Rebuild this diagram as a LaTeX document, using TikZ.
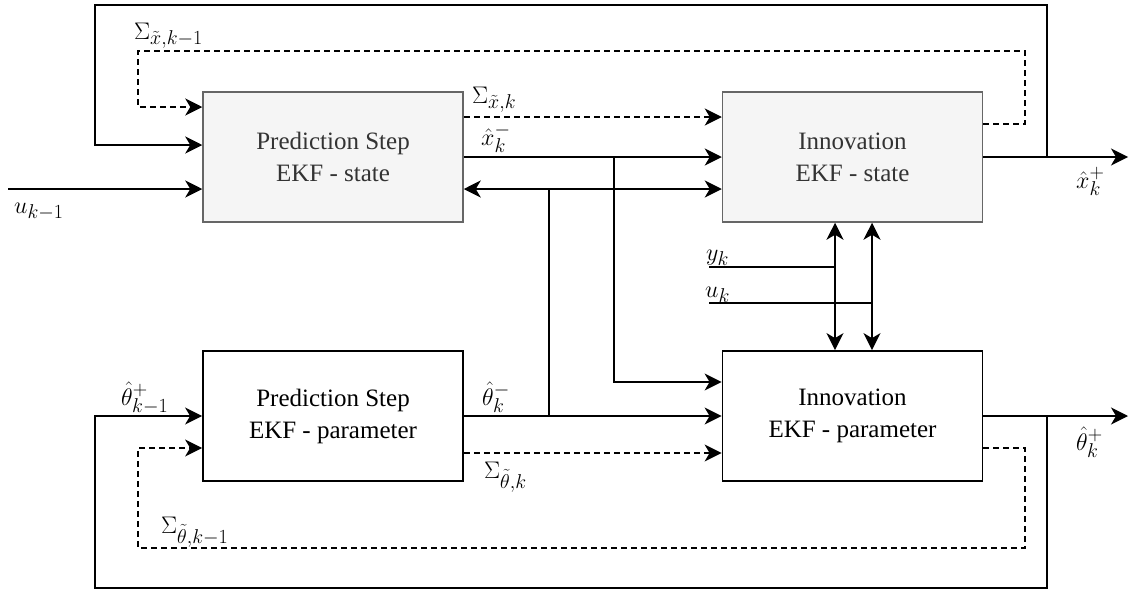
\RequirePackage{fix-cm}
\documentclass[tikz,border=0pt]{standalone}
\usepackage[no-math]{fontspec}
\setmainfont{Liberation Serif}
\usetikzlibrary{arrows.meta}
\definecolor{stfill}{HTML}{F5F5F5}
\definecolor{stdraw}{HTML}{666666}
\definecolor{sttext}{HTML}{333333}
\DeclareMathSizes{24}{24}{20}{15}
\begin{document}
\begin{tikzpicture}[x=1pt,y=-1pt,
  >={Stealth[length=17pt,width=17pt,inset=5pt]},
  blk/.style={minimum width=260pt,minimum height=130pt,align=center,inner sep=0pt,font=\fontsize{25}{32}\selectfont},
  statebox/.style={blk,draw=stdraw,fill=stfill,text=sttext,line width=1.5pt},
  parbox/.style={blk,draw=black,line width=1.8pt,text=black},
  conn/.style={line width=1.6pt},
  arr/.style={conn,->},
  dbl/.style={conn,<->},
  dsh/.style={line width=1.4pt,dash pattern=on 6pt off 4pt,->},
  lab/.style={anchor=base west,inner sep=0pt,font=\fontsize{24}{28}\selectfont}]
\useasboundingbox (0,0) rectangle (1129,592);

% boxes
\node[statebox] (ps) at (333,157) {Prediction Step\\EKF - state};
\node[statebox] (is) at (852.5,157) {Innovation\\EKF - state};
\node[parbox] (pp) at (333,416) {Prediction Step\\EKF - parameter};
\node[parbox] (ip) at (852.5,416) {Innovation\\EKF - parameter};

% helper coordinates
\coordinate (xout) at (1128,157);
\coordinate (tout) at (1128,416);
\coordinate (jx) at (1047,157);
\coordinate (cTL) at (95,5);
\coordinate (dTR) at (1025,51);
\coordinate (dTL) at (138,51);
\coordinate (jxm) at (614,157);
\coordinate (jd) at (549,189);
\coordinate (jt) at (549,416);
\coordinate (uin) at (8,189);
\coordinate (yk) at (709,267);
\coordinate (yk2) at (835,267);
\coordinate (uk) at (709,303);
\coordinate (uk2) at (872,303);
\coordinate (jt2) at (1047,416);
\coordinate (cBL) at (95,588);
\coordinate (dBR) at (1025,548);
\coordinate (dBL) at (138,548);

% state path
\draw[arr] (is.east) -- (xout);
\draw[arr] (jx) |- (cTL) |- ([yshift=12pt]ps.west);
\draw[dsh] ([yshift=33pt]is.east) -| (dTR) -- (dTL) |- ([yshift=50pt]ps.west);
\draw[dsh] ([yshift=40pt]ps.east) -- ([yshift=40pt]is.west);
\draw[arr] (ps.east) -- (is.west);
\draw[arr] (jxm) |- ([yshift=34pt]ip.west);
\draw[dbl] ([yshift=-32pt]ps.east) -- ([yshift=-32pt]is.west);
\draw[conn] (jd) -- (jt);
\draw[arr] (uin) -- ([yshift=-32pt]ps.west);

% measurements
\draw[dbl] ([xshift=-17.5pt]is.south) -- ([xshift=-17.5pt]ip.north);
\draw[dbl] ([xshift=19.5pt]is.south) -- ([xshift=19.5pt]ip.north);
\draw[conn] (yk) -- (yk2);
\draw[conn] (uk) -- (uk2);

% parameter path
\draw[arr] (pp.east) -- (ip.west);
\draw[dsh] ([yshift=-37pt]pp.east) -- ([yshift=-37pt]ip.west);
\draw[arr] (ip.east) -- (tout);
\draw[arr] (jt2) |- (cBL) |- (pp.west);
\draw[dsh] ([yshift=-32pt]ip.east) -| (dBR) -- (dBL) |- ([yshift=-32pt]pp.west);

% labels
\node[lab] (l1) at (134,39) {$\Sigma_{\tilde{x},k-1}$};
\node[lab] (l2) at (472,103) {$\Sigma_{\tilde{x},k}$};
\node[lab] (l3) at (481,145) {$\hat{x}_k^-$};
\node[lab] (l4) at (14,213) {$u_{k-1}$};
\node[lab] (l5) at (706,260) {$y_k$};
\node[lab] (l6) at (705,297) {$u_k$};
\node[lab] (l7) at (1076,188) {$\hat{x}_k^+$};
\node[lab] (l8) at (121,405) {$\hat{\theta}_{k-1}^+$};
\node[lab] (l9) at (482,405) {$\hat{\theta}_k^-$};
\node[lab] (l10) at (484,478) {$\Sigma_{\tilde{\theta},k}$};
\node[lab] (l11) at (161,533) {$\Sigma_{\tilde{\theta},k-1}$};
\node[lab] (l12) at (1076,450) {$\hat{\theta}_k^+$};
\end{tikzpicture}
\end{document}
